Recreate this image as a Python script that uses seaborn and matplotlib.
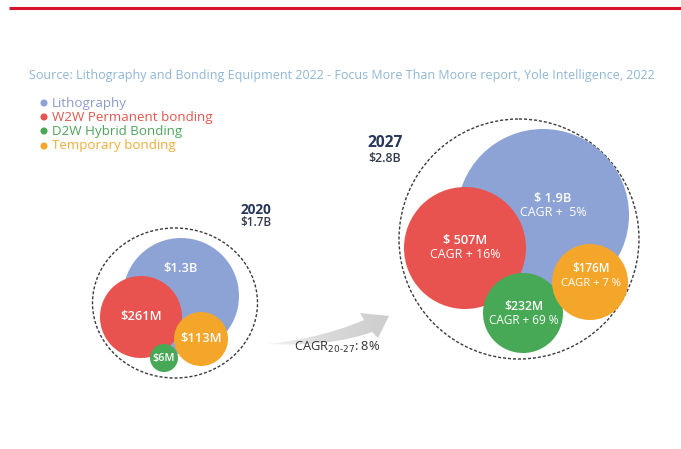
import numpy as np
import matplotlib
matplotlib.use("Agg")
import matplotlib.pyplot as plt
import seaborn as sns
import pandas as pd
from matplotlib.patches import Circle, Ellipse, PathPatch
from matplotlib.path import Path
from matplotlib.colors import LinearSegmentedColormap

# ---- data -------------------------------------------------------------
segments = ["Lithography", "W2W Permanent bonding", "D2W Hybrid Bonding", "Temporary bonding"]
seg_colors = ["#8da3d6", "#e8534f", "#47a955", "#f4a62a"]
legend_text_colors = ["#8c9bcc", "#e2574f", "#4fa45a", "#f0ad3a"]

year_2020 = "2020"
total_2020 = "$1.7B"
labels_2020 = ["$1.3B", "$261M", "$6M", "$113M"]

year_2027 = "2027"
total_2027 = "$2.8B"
labels_2027 = ["$ 1.9B", "$ 507M", "$232M", "$176M"]
cagr_2027 = ["CAGR +  5%", "CAGR + 16%", "CAGR + 69 %", "CAGR + 7 %"]

overall_cagr = "CAGR$_{20\u201027}$: 8%"
source = ("Source: Lithography and Bonding Equipment 2022 - Focus More Than Moore report, "
          "Yole Intelligence, 2022")

# ---- layout (pixel space, y downward) ---------------------------------
pos_2020 = [(181, 296, 58), (141, 317, 41), (164, 358, 14), (201, 339, 27)]
pos_2027 = [(543, 215, 86), (465, 248, 61), (523, 313, 40), (590, 282, 38)]

sns.set_theme(style="white")
plt.rcParams["font.family"] = ["Open Sans", "DejaVu Sans"]

fig = plt.figure(figsize=(6.81, 4.49), dpi=100)
ax = fig.add_axes([0, 0, 1, 1])


def frame():
    ax.set_xlim(0, 681)
    ax.set_ylim(449, 0)
    ax.axis("off")


frame()

# top rule
ax.plot([9, 681], [8, 8], color="#d9122b", lw=2.2, solid_capstyle="butt")

# source line
ax.text(342, 75, source, color="#8fb6d6", fontsize=9.0, ha="center", va="center")

# legend: dots drawn with seaborn, labels as coloured text
legend_y = [103, 117, 131, 146]
leg_df = pd.DataFrame({"x": [44] * 4, "y": legend_y, "seg": segments})
sns.scatterplot(data=leg_df, x="x", y="y", hue="seg", palette=seg_colors,
                s=26, edgecolor="none", legend=False, ax=ax)
frame()
for y, name, c in zip(legend_y, segments, legend_text_colors):
    ax.text(52, y, name, color=c, fontsize=9.6, va="center", ha="left")

# ---- 2020 cluster -------------------------------------------------------
ax.add_patch(Ellipse((175, 303), 165, 150, fill=False, ec="#3a3a3a",
                     lw=1.0, ls=(0, (2.2, 1.4)), zorder=1))
for (x, y, r), c in zip(pos_2020, seg_colors):
    ax.add_patch(Circle((x, y), r, color=c, lw=0, zorder=2))
txt_off_2020 = [(0, -28), (0, 0), (0, 0), (0, 0)]
sizes_2020 = [9.3, 9.3, 7.8, 9.3]
for (x, y, r), (dx, dy), lab, fs in zip(pos_2020, txt_off_2020, labels_2020, sizes_2020):
    ax.text(x + dx, y + dy, lab, color="white", fontsize=fs, fontweight="semibold",
            ha="center", va="center", zorder=3)

ax.text(256, 210, year_2020, color="#27365a", fontsize=9.8, fontweight="bold",
        ha="center", va="center")
ax.text(256, 223, total_2020, color="#333b4a", fontsize=8.5, fontweight="semibold",
        ha="center", va="center")

# ---- 2027 cluster -------------------------------------------------------
ax.add_patch(Circle((519, 239), 120, fill=False, ec="#3a3a3a",
                    lw=1.0, ls=(0, (2.2, 1.4)), zorder=1))
for (x, y, r), c in zip(pos_2027, seg_colors):
    ax.add_patch(Circle((x, y), r, color=c, lw=0, zorder=2))
txt_off_2027 = [(10, -10), (0, 0), (1, 0), (1, -6)]
sizes_2027 = [9.2, 9.2, 8.8, 8.4]
for (x, y, r), (dx, dy), lab, cg, fs in zip(pos_2027, txt_off_2027, labels_2027,
                                            cagr_2027, sizes_2027):
    ax.text(x + dx, y + dy - 7, lab, color="white", fontsize=fs, fontweight="semibold",
            ha="center", va="center", zorder=3)
    ax.text(x + dx, y + dy + 7, cg, color="white", fontsize=fs - 0.3,
            ha="center", va="center", zorder=3)

ax.text(385, 143, year_2027, color="#27365a", fontsize=11.2, fontweight="bold",
        ha="center", va="center")
ax.text(385, 158, total_2027, color="#333b4a", fontsize=9.0, fontweight="semibold",
        ha="center", va="center")

# ---- growth arrow with grey gradient -----------------------------------
t = np.linspace(0, 1, 30)
p0, p1, p2 = np.array([267, 344]), np.array([322, 338]), np.array([364, 320])
upper = ((1 - t) ** 2)[:, None] * p0 + (2 * t * (1 - t))[:, None] * p1 + (t ** 2)[:, None] * p2
q0, q1, q2 = np.array([372, 332]), np.array([330, 347]), np.array([267, 344])
lower = ((1 - t) ** 2)[:, None] * q0 + (2 * t * (1 - t))[:, None] * q1 + (t ** 2)[:, None] * q2
head = np.array([[360, 313], [389, 316], [378, 338]])
verts = np.vstack([upper, head, lower])
arrow_patch = PathPatch(Path(verts), facecolor="none", edgecolor="none")
ax.add_patch(arrow_patch)
grad = np.linspace(0, 1, 256)[None, :]
gcmap = LinearSegmentedColormap.from_list("g", ["#f6f6f6", "#d8d8d8", "#cdcdcd"])
im = ax.imshow(grad, cmap=gcmap, extent=(265, 392, 350, 310), aspect="auto",
               zorder=1.5, interpolation="bicubic")
im.set_clip_path(arrow_patch)
frame()

ax.text(337, 347, overall_cagr, color="#333333", fontsize=9.3,
        ha="center", va="center", zorder=4)

fig.savefig("out.png", dpi=100, facecolor="white")
